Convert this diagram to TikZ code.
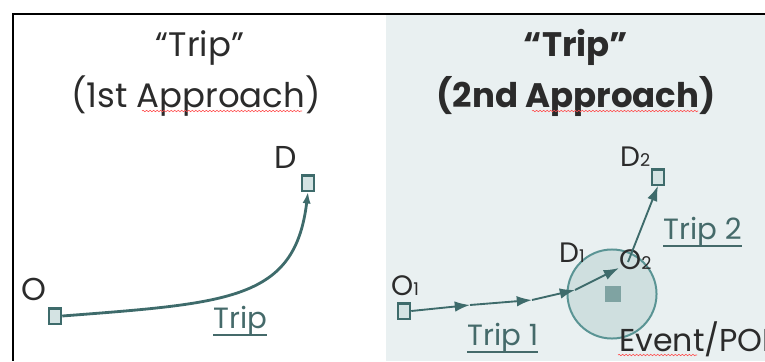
\documentclass[tikz,border=0pt]{standalone}
\usepackage{fontspec}
\setmainfont{Poppins}
\usetikzlibrary{positioning, calc, arrows.meta, decorations.pathmorphing}
\definecolor{Ink}{HTML}{2B2B2B}
\definecolor{Teal}{HTML}{3E6B6B}
\definecolor{SqFill}{HTML}{D4E3E3}
\definecolor{PanelBg}{HTML}{E9F0F1}
\definecolor{ZoneFill}{HTML}{CFDFDF}
\definecolor{ZoneDraw}{HTML}{5A9494}
\definecolor{PoiFill}{HTML}{7FA3A2}
\definecolor{TripText}{HTML}{456A6A}
\newcommand\subidx[1]{{\fontsize{15}{15}\selectfont #1}}
\tikzset{
    title/.style={font=\fontsize{29}{34}\selectfont, text=Ink, anchor=base, inner sep=0pt},
    pt/.style={rectangle, draw=Teal, fill=SqFill, line width=1.9pt, minimum width=10.5pt, minimum height=13pt, inner sep=0pt},
    place/.style={font=\fontsize{24}{28}\selectfont, text=Ink, inner sep=0pt, anchor=base west},
    triplabel/.style={font=\fontsize{25}{28}\selectfont, text=TripText, inner sep=0pt, anchor=base west},
    uline/.style={line width=1.7pt, draw=TripText},
    trip/.style={-{Latex[length=13pt,width=9pt]}, line width=1.6pt, draw=Teal},
    spell/.style={draw=red!70, line width=0.5pt, decorate, decoration={snake, amplitude=0.6pt, segment length=3pt}},
}
\begin{document}
\begin{tikzpicture}[x=0.03cm, y=-0.03cm]
    \useasboundingbox (0,0) rectangle (765,361);
    % frame
    \fill[PanelBg] (386,15) rectangle (765,361);
    \draw[line width=1.7pt] (765,14) -- (13,14) -- (13,361);

    % titles
    \node[title] (lt1) at (200,56) {“Trip”};
    \node[title] (lt2) at (196,107) {(1st Approach)};
    \node[title, font=\fontsize{29}{34}\selectfont\bfseries] (rt1) at (576,56) {“Trip”};
    \node[title, font=\fontsize{29}{34}\selectfont\bfseries] (rt2) at (576,107) {(2nd Approach)};
    \draw[spell] (142,111) -- (302,111);
    \draw[spell] (532,111) -- (698,111);

    % 1st approach
    \node[pt] (Dsq) at (308,183) {};
    \node[place, font=\fontsize{27}{30}\selectfont] (D) at (274,168) {D};
    \node[pt] (Osq) at (55,316) {};
    \node[place, font=\fontsize{27}{30}\selectfont] (O) at (21,300) {O};
    \draw[trip, line width=2.4pt, -{Latex[length=10pt,width=7pt]}] (Osq.east) .. controls (230,303) and (295,300) .. (Dsq.south);
    \node[triplabel] (trip) at (213,328) {Trip};
    \draw[uline] ([yshift=-6pt]trip.base west) -- ([yshift=-6pt]trip.base east);

    % 2nd approach
    \node[circle, fill=ZoneFill, draw=ZoneDraw, line width=1.7pt, minimum size=76pt] (zone) at (612,294) {};
    \node[fill=PoiFill, minimum size=13.5pt, inner sep=0pt] (poi) at (613,294) {};
    \node[pt] (O1sq) at (404,311) {};
    \node[place] (O1) at (391,295) {O\subidx{1}};
    \node[place] (D1) at (559,262) {D\subidx{1}};
    \node[place] (O2) at (619,269) {O\subidx{2}};
    \node[pt] (D2sq) at (658,177) {};
    \node[place] (D2) at (620,166) {D\subidx{2}};
    \coordinate (k1) at (470,305);
    \coordinate (k2) at (532,300);
    \coordinate (k3) at (575,290);
    \coordinate (k4) at (619,268);
    \coordinate (O2c) at (628,262);
    \draw[trip] (O1sq.east) -- (k1);
    \draw[trip] (k1) -- (k2);
    \draw[trip] (k2) -- (k3);
    \draw[trip] (k3) -- (k4);
    \draw[trip] (O2c) -- (D2sq.south);
    \node[triplabel] (trip1) at (467,345) {Trip 1};
    \draw[uline] ([yshift=-6pt]trip1.base west) -- ([yshift=-6pt]trip1.base east);
    \node[triplabel] (trip2) at (663,239) {Trip 2};
    \draw[uline] ([yshift=-6pt]trip2.base west) -- ([yshift=-6pt]trip2.base east);
    \node[place, font=\fontsize{27}{30}\selectfont] (poiname) at (619,351) {Event/POI};
    \draw[spell] (618,355) -- (697,355);
\end{tikzpicture}
\end{document}
